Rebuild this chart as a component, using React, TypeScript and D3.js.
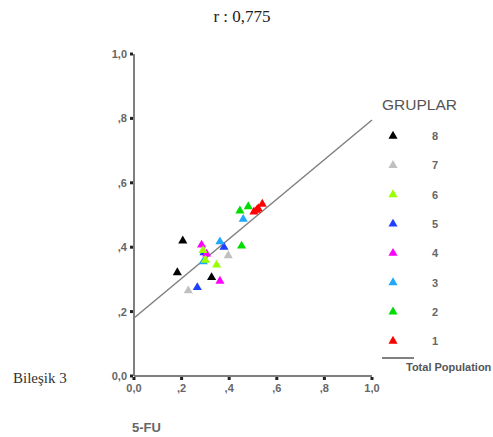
import React from "react";
import * as d3 from "d3";

const groups = ["8", "7", "6", "5", "4", "3", "2", "1"];
const groupColors = ["#000000", "#c0c0c0", "#99ff00", "#1f3fff", "#ff00ff", "#1ea7ff", "#00dd00", "#ff0000"];

const xTicks = [0, 0.2, 0.4, 0.6, 0.8, 1.0];
const yTicks = [0, 0.2, 0.4, 0.6, 0.8, 1.0];
const tickLabels = ["0,0", ",2", ",4", ",6", ",8", "1,0"];

// points: [group, x, y]
const ptGroup = ["8", "8", "8", "7", "7", "5", "5", "5", "4", "4", "4", "3", "3", "3", "6", "6", "6", "2", "2", "2", "1", "1", "1", "1"];
const ptX = [0.205, 0.182, 0.326, 0.228, 0.396, 0.266, 0.378, 0.294, 0.284, 0.305, 0.361, 0.361, 0.291, 0.459, 0.347, 0.29, 0.3, 0.452, 0.445, 0.48, 0.504, 0.522, 0.539, 0.515];
const ptY = [0.42, 0.321, 0.306, 0.265, 0.374, 0.275, 0.4, 0.383, 0.407, 0.379, 0.295, 0.417, 0.355, 0.487, 0.345, 0.39, 0.36, 0.404, 0.513, 0.526, 0.51, 0.52, 0.534, 0.515];

const fitX = [0, 1];
const fitY = [0.18, 0.795];

export default function App() {
  const W = 493, H = 437;
  const x = d3.scaleLinear().domain([0, 1]).range([134, 372]);
  const y = d3.scaleLinear().domain([0, 1]).range([376, 54]);
  const tri = d3.symbol().type(d3.symbolTriangle).size(36)()!;
  const line = d3.line<number>().x((_, i) => x(fitX[i])).y((_, i) => y(fitY[i]));
  const sans = "'Liberation Sans', Arial, sans-serif";
  const serif = "'Liberation Serif', 'Times New Roman', serif";
  const col = (g: string) => groupColors[groups.indexOf(g)];
  return (
    <svg width={W} height={H} style={{ position: "absolute", left: 0, top: 0, background: "#fff" }}>
      <text x={242} y={22} textAnchor="middle" fontFamily={serif} fontSize={17} fill="#222">r : 0,775</text>
      {/* axes */}
      <line x1={x(0)} x2={x(0)} y1={y(1)} y2={y(0)} stroke="#555" strokeWidth={1.5} />
      <line x1={x(0)} x2={x(1)} y1={y(0)} y2={y(0)} stroke="#555" strokeWidth={1.5} />
      {yTicks.map((t, i) => (
        <g key={"y" + i}>
          <rect x={x(0) - 4} y={y(t) - 1.5} width={3} height={3} fill="#222" />
          <text x={x(0) - 7} y={y(t) + 4} textAnchor="end" fontFamily={sans} fontSize={11} fontWeight="bold" fill="#666">{tickLabels[i]}</text>
        </g>
      ))}
      {xTicks.map((t, i) => (
        <g key={"x" + i}>
          <rect x={x(t) - 1.5} y={y(0) + 1} width={3} height={3} fill="#222" />
          <text x={x(t)} y={y(0) + 16} textAnchor="middle" fontFamily={sans} fontSize={11} fontWeight="bold" fill="#666">{tickLabels[i]}</text>
        </g>
      ))}
      <path d={line(fitX) || ""} stroke="#808080" strokeWidth={1.5} fill="none" />
      {ptX.map((v, i) => (
        <path key={"p" + i} d={tri} transform={`translate(${x(v)},${y(ptY[i])})`} fill={col(ptGroup[i])} />
      ))}
      {/* legend */}
      <text x={382} y={110} fontFamily={sans} fontSize={15.5} fill="#555">GRUPLAR</text>
      {groups.map((g, i) => (
        <g key={"l" + g} transform={`translate(0,${136 + i * 29.3})`}>
          <path d={tri} transform="translate(393,0)" fill={groupColors[i]} />
          <text x={432} y={4} fontFamily={sans} fontSize={11} fontWeight="bold" fill="#666">{g}</text>
        </g>
      ))}
      <line x1={382} x2={414} y1={358} y2={358} stroke="#808080" strokeWidth={2} />
      <text x={406} y={371} fontFamily={sans} fontSize={11} fontWeight="bold" fill="#555">Total Population</text>
      <text x={13} y={383} fontFamily={serif} fontSize={15} fill="#333">Bileşik 3</text>
      <text x={132} y={432} fontFamily={sans} fontSize={13} fontWeight="bold" fill="#666">5-FU</text>
    </svg>
  );
}
